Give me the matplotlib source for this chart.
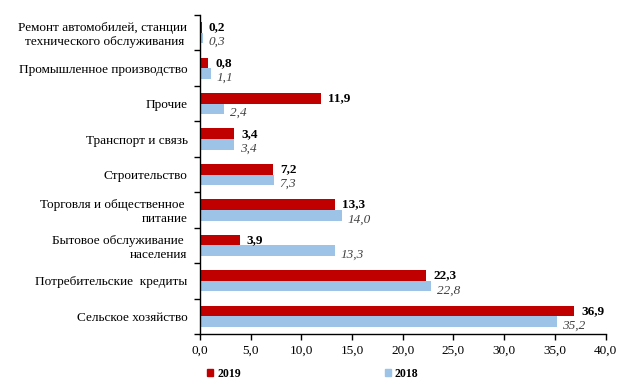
import matplotlib
matplotlib.use("Agg")
import matplotlib.pyplot as plt
from matplotlib.patches import Patch
import numpy as np

plt.rcParams['font.family'] = ['Liberation Serif', 'DejaVu Serif']

categories = [
    "Сельское хозяйство",
    "Потребительские  кредиты",
    "Бытовое обслуживание \nнаселения",
    "Торговля и общественное \nпитание",
    "Строительство",
    "Транспорт и связь",
    "Прочие",
    "Промышленное производство",
    "Ремонт автомобилей, станции\nтехнического обслуживания ",
]
values_2019 = [36.9, 22.3, 3.9, 13.3, 7.2, 3.4, 11.9, 0.8, 0.2]
values_2018 = [35.2, 22.8, 13.3, 14.0, 7.3, 3.4, 2.4, 1.1, 0.3]
xticks = [0, 5, 10, 15, 20, 25, 30, 35, 40]

RED = "#C00000"
BLUE = "#9DC3E6"
FS = 9.5

def fmt(v):
    return f"{v:.1f}".replace(".", ",")

fig = plt.figure(figsize=(6.32, 3.92), dpi=100)
ax = fig.add_axes([200/632, 1-334/392, 405.5/632, 319/392])

y = np.arange(len(categories))
h = 0.3
ax.barh(y + h/2, values_2019, height=h, color=RED, label="2019")
ax.barh(y - h/2, values_2018, height=h, color=BLUE, label="2018")

for yi, v in zip(y, values_2019):
    ax.annotate(fmt(v), (v, yi + h/2), xytext=(5, 0), textcoords="offset points",
                ha="left", va="center", fontsize=FS, fontweight="bold", color="black")
for yi, v in zip(y, values_2018):
    ax.annotate(fmt(v), (v, yi - h/2), xytext=(4, -3), textcoords="offset points",
                ha="left", va="center", fontsize=FS, fontstyle="italic", color="#404040")

ax.set_xlim(0, 40)
ax.set_ylim(-0.5, len(categories) - 0.5)
ax.set_xticks(xticks)
ax.set_xticklabels([fmt(t) for t in xticks], fontsize=FS)
ax.set_yticks(y)
ax.set_yticklabels(categories, fontsize=FS, ha="right", multialignment="right")
ax.set_yticks(np.arange(len(categories) + 1) - 0.5, minor=True)
ax.tick_params(axis="y", which="major", length=0, pad=9)
ax.tick_params(axis="y", which="minor", length=4, direction="out", width=1)
ax.tick_params(axis="x", which="major", length=4, direction="out", width=1, pad=4)

for s in ["top", "right"]:
    ax.spines[s].set_visible(False)
for s in ["left", "bottom"]:
    ax.spines[s].set_color("black")
    ax.spines[s].set_linewidth(1)

LFS = 8.5
handles = [Patch(color=RED, label="2019"), Patch(color=BLUE, label="2018")]
leg = fig.legend(handles=handles, loc="center left", bbox_to_anchor=(207/632, 1-374/392),
                 ncol=2, frameon=False, handlelength=0.55, handleheight=0.55,
                 handletextpad=0.3, columnspacing=12.2, borderpad=0, borderaxespad=0,
                 prop={"family": "Liberation Serif", "weight": "bold", "size": LFS})

fig.savefig("out.png", dpi=100)
